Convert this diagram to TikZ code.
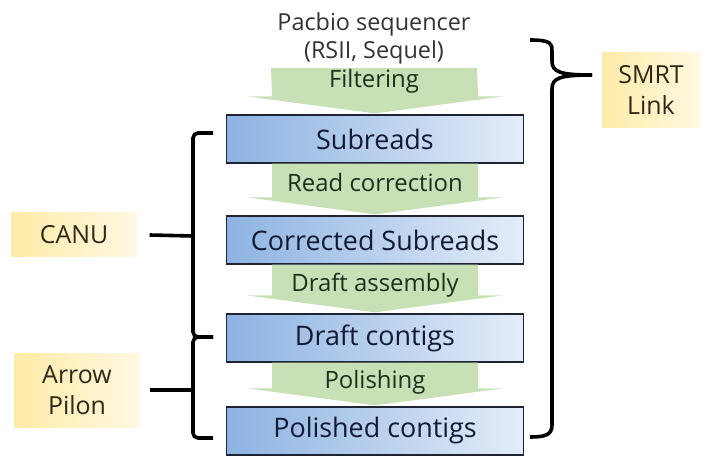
\documentclass[tikz,border=0pt]{standalone}
\usepackage{fontspec}
\setmainfont{Open Sans}
\usetikzlibrary{calc}

\definecolor{boxleft}{RGB}{141,179,226}
\definecolor{boxright}{RGB}{228,236,248}
\definecolor{boxline}{RGB}{30,36,52}
\definecolor{boxtext}{RGB}{18,26,52}
\definecolor{flowgreen}{RGB}{199,224,181}
\definecolor{flowtext}{RGB}{28,48,26}
\definecolor{tagleft}{RGB}{255,235,168}
\definecolor{tagright}{RGB}{255,248,226}
\definecolor{tagtext}{RGB}{48,40,22}

\begin{document}
\begin{tikzpicture}[x=1bp, y=-1bp,
    stage/.style={draw=boxline, line width=1.2bp, minimum width=297bp, minimum height=48bp,
      inner sep=0pt, left color=boxleft, right color=boxright, text=boxtext,
      font=\fontsize{27}{30}\selectfont},
    flow/.style={fill=flowgreen},
    flowlabel/.style={text=flowtext, inner sep=0pt, anchor=base,
      font=\fontsize{24}{26}\selectfont},
    tool/.style={left color=tagleft, right color=tagright, text=tagtext, align=center,
      inner sep=0pt, font=\fontsize{25}{31}\selectfont},
    brace/.style={line width=3.6bp, rounded corners=5bp}]
  \useasboundingbox (0,0) rectangle (707,456);

  % pipeline
  \node[text=black!80, align=center, inner sep=0pt, minimum height=60bp,
    font=\fontsize{23.5}{28}\selectfont] (seq) at (374,38) {Pacbio sequencer\\(RSII, Sequel)};
  \node[stage] (sub) at (375,139) {Subreads};
  \node[stage] (corr) at (375,240) {Corrected Subreads};
  \node[stage] (draft) at (375,338) {Draft contigs};
  \node[stage] (pol) at (375,431) {Polished contigs};

  \foreach \a/\b in {seq/sub, sub/corr, corr/draft, draft/pol} {
    \fill[flow] ($(\a.south)+(-103,0)$) -- ($(\a.south)+(103,0)$) -- ($(\b.north)+(103,-18)$)
      -- ($(\b.north)+(128,-18)$) -- ($(\b.north)+(0,-1)$) -- ($(\b.north)+(-128,-18)$)
      -- ($(\b.north)+(-103,-18)$) -- cycle;
  }
  \node[flowlabel] (filt) at (374,88) {Filtering};
  \node[flowlabel] (rc) at (375,192) {Read correction};
  \node[flowlabel] (da) at (375,292) {Draft assembly};
  \node[flowlabel] (pl) at (375,388) {Polishing};

  % tools
  \node[tool, minimum width=125bp, minimum height=44bp] (canu) at (74,235) {CANU};
  \node[tool, minimum width=125bp, minimum height=74bp] (pilon) at (77,390) {Arrow\\Pilon};
  \node[tool, minimum width=98bp, minimum height=75bp] (smrt) at (651,90) {SMRT\\Link};

  % braces
  \coordinate (canutip) at (193,236);
  \coordinate (pilontip) at (193,390);
  \coordinate (smrttip) at (592,75);
  \draw[brace] (213,133) -| (193,337) -- (213,337);
  \draw[brace] (213,337) -| (193,438) -- (213,438);
  \draw[brace] ([xshift=13bp]canu.east) -- (canutip);
  \draw[brace] ([xshift=10bp]pilon.east) -- (pilontip);
  \draw[brace] (530,40) .. controls (552,40) and (552,44) .. (552,56)
    .. controls (552,72) and (560,75) .. (smrttip);
  \draw[brace] (smrttip) .. controls (560,75) and (552,78) .. (552,94) -- (552,420)
    .. controls (552,435) and (545,437) .. (530,437);
\end{tikzpicture}
\end{document}
